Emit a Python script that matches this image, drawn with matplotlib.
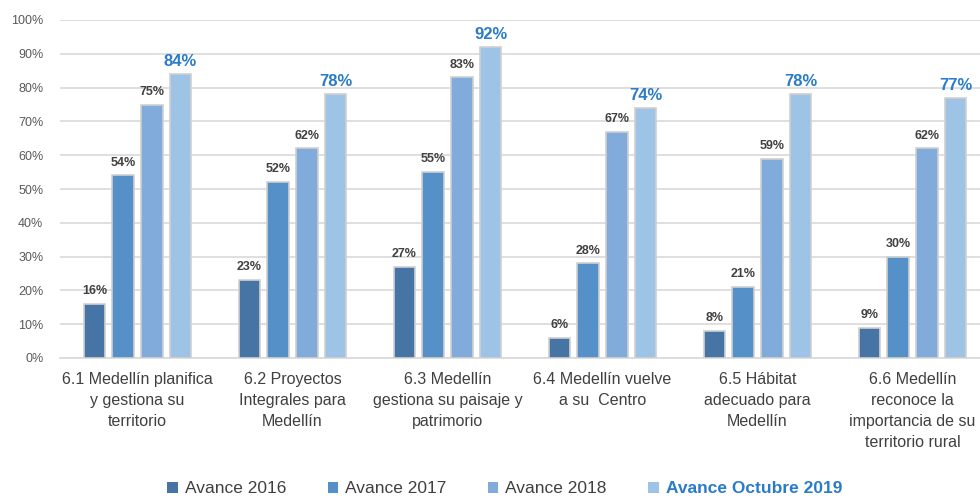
import matplotlib
matplotlib.use('Agg')
import matplotlib.pyplot as plt
import numpy as np
from matplotlib import font_manager

categories = ["6.1 Medellín planifica\ny gestiona su\nterritorio",
              "6.2 Proyectos\nIntegrales para\nMedellín",
              "6.3 Medellín\ngestiona su paisaje y\npatrimorio",
              "6.4 Medellín vuelve\na su  Centro",
              "6.5 Hábitat\nadecuado para\nMedellín",
              "6.6 Medellín\nreconoce la\nimportancia de su\nterritorio rural"]
series = ["Avance 2016", "Avance 2017", "Avance 2018", "Avance Octubre 2019"]
v2016 = [16, 23, 27, 6, 8, 9]
v2017 = [54, 52, 55, 28, 21, 30]
v2018 = [75, 62, 83, 67, 59, 62]
v2019 = [84, 78, 92, 74, 78, 77]
colors = ['#4675a5', '#5590c8', '#80abda', '#9dc3e6']

names = {f.name for f in font_manager.fontManager.ttflist}
fam = 'Liberation Sans Narrow' if 'Liberation Sans Narrow' in names else 'Liberation Sans'
plt.rcParams['font.family'] = [fam, 'DejaVu Sans']

fig = plt.figure(figsize=(9.8, 4.97), dpi=100)
ax = fig.add_axes([60/980, 1-358/497, 920/980, 338/497])

x = np.arange(len(categories))
step = 0.185
width = 0.14
for i, (vals, col) in enumerate(zip([v2016, v2017, v2018, v2019], colors)):
    pos = x + (i - 1.5) * step
    ax.bar(pos, vals, width, color=col, edgecolor='#d0d0d0', linewidth=1.2,
           label=series[i], zorder=3)
    for p, v in zip(pos, vals):
        if i == 3:
            ax.text(p, v + 1.5, f"{v}%", ha='center', va='bottom', fontsize=12,
                    fontweight='bold', color='#2a7bc8')
        else:
            ax.text(p, v + 2, f"{v}%", ha='center', va='bottom', fontsize=9,
                    fontweight='bold', color='#404040')

ax.set_ylim(0, 100)
ax.set_xlim(-0.5, 5.435)
ax.set_yticks(range(0, 101, 10))
ax.set_yticklabels([f"{t}%" for t in range(0, 101, 10)], fontsize=9, color='#595959')
ax.set_xticks(x)
ax.set_xticklabels(categories, fontsize=11.5, color='#404040', linespacing=1.5)
ax.tick_params(axis='both', length=0)
ax.tick_params(axis='x', pad=10)
ax.tick_params(axis='y', pad=12)
ax.grid(axis='y', color='#d9d9d9', linewidth=1.2, zorder=0)
for s in ['top', 'right', 'left']:
    ax.spines[s].set_visible(False)
ax.spines['bottom'].set_color('#d9d9d9')
ax.spines['bottom'].set_linewidth(1.2)

leg = fig.legend(loc='lower center', bbox_to_anchor=(0.515, -0.03), ncol=4, frameon=False,
                 fontsize=12.5, handlelength=0.6, handleheight=0.6, handletextpad=0.4,
                 columnspacing=2.4)
for t, c in zip(leg.get_texts(), ['#404040'] * 3 + ['#2a7bc8']):
    t.set_color(c)
leg.get_texts()[3].set_fontweight('bold')
for h in leg.legend_handles:
    h.set_edgecolor('none')

fig.savefig('out.png', dpi=100)
